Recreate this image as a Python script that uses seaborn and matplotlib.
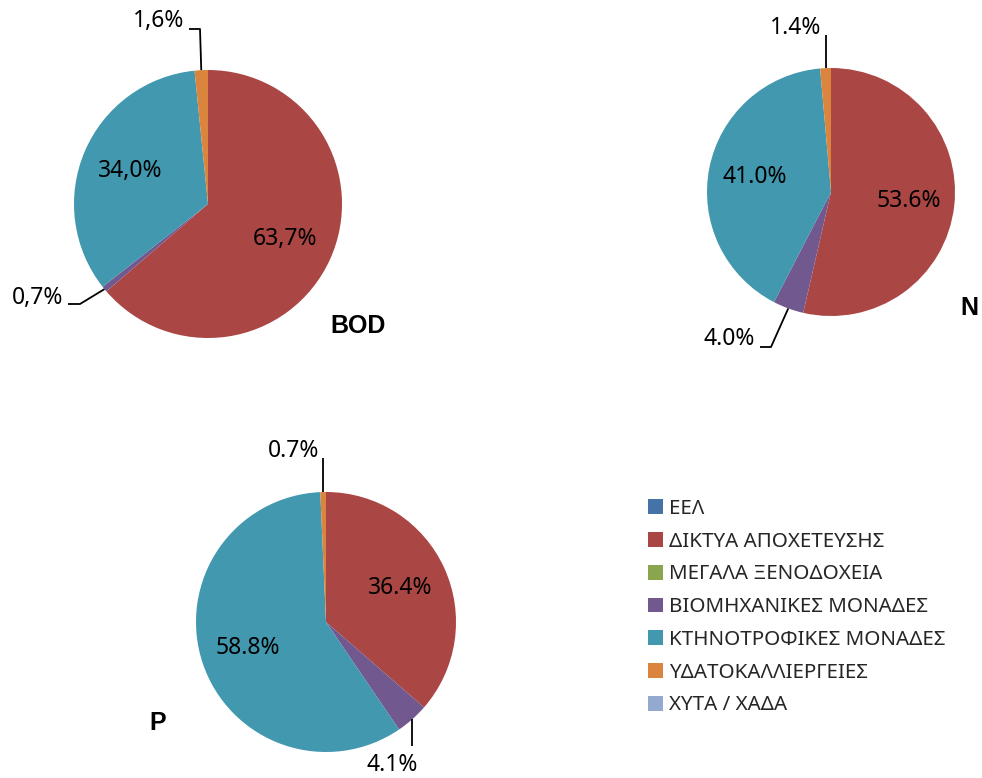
import matplotlib
matplotlib.use("Agg")
import matplotlib.pyplot as plt
import seaborn as sns
import numpy as np

# Pollution load shares by source category (percent)
categories = ["ΕΕΛ", "ΔΙΚΤΥΑ ΑΠΟΧΕΤΕΥΣΗΣ", "ΜΕΓΑΛΑ ΞΕΝΟΔΟΧΕΙΑ",
              "ΒΙΟΜΗΧΑΝΙΚΕΣ ΜΟΝΑΔΕΣ", "ΚΤΗΝΟΤΡΟΦΙΚΕΣ ΜΟΝΑΔΕΣ",
              "ΥΔΑΤΟΚΑΛΛΙΕΡΓΕΙΕΣ", "ΧΥΤΑ / ΧΑΔΑ"]
bod_values = [0.0, 63.7, 0.0, 0.7, 34.0, 1.6, 0.0]
n_values = [0.0, 53.6, 0.0, 4.0, 41.0, 1.4, 0.0]
p_values = [0.0, 36.4, 0.0, 4.1, 58.8, 0.7, 0.0]
colors = ["#4572A7", "#AA4643", "#89A54E", "#71588F", "#4198AF", "#DB843D", "#93A9CF"]

sns.set_theme(style="white")
plt.rcParams["font.family"] = ["Noto Sans", "DejaVu Sans"]

W, H = 982, 778
fig = plt.figure(figsize=(W / 100, H / 100), dpi=100)
ax = fig.add_axes([0, 0, 1, 1])


def py(y):
    """Convert a top-down pixel row into axes data units."""
    return H - y


# layout: pie centre/radius, title, decimal mark, outside labels
# outside labels: index -> (text x, text y, ha, elbow points between text and rim)
pies = [
    dict(values=bod_values, cx=208, cy=204, r=134, title="BOD", tpos=(358, 326), dec=",",
         outside={5: dict(txt=(184, 21), ha="right", path=[(189, 29), (200, 29)]),
                  3: dict(txt=(63, 298), ha="right", path=[(68, 304), (80, 304)])}),
    dict(values=n_values, cx=831, cy=192, r=124, title="N", tpos=(969, 308), dec=".",
         outside={5: dict(txt=(821, 28), ha="right", path=[(826, 35)]),
                  3: dict(txt=(755, 339), ha="right", path=[(760, 347), (771, 347)])}),
    dict(values=p_values, cx=326, cy=622, r=130, title="P", tpos=(158, 723), dec=".",
         outside={5: dict(txt=(319, 451), ha="right", path=[(323, 458)]),
                  3: dict(txt=(392, 765), ha="center", path=[(412, 746)])}),
]

legend_wedges = None
for spec in pies:
    vals = np.asarray(spec["values"], dtype=float)
    wedges, _ = ax.pie(vals, colors=colors, startangle=90, counterclock=False,
                       center=(spec["cx"], py(spec["cy"])), radius=spec["r"],
                       frame=True, wedgeprops=dict(linewidth=0))
    if legend_wedges is None:
        legend_wedges = wedges
    total = vals.sum()
    cum = np.cumsum(vals) - vals / 2
    for i, v in enumerate(vals):
        if v <= 0:
            continue
        ang = np.deg2rad(90 - 360 * cum[i] / total)
        label = f"{v:.1f}%".replace(".", spec["dec"])
        if i in spec["outside"]:
            o = spec["outside"][i]
            ex = spec["cx"] + spec["r"] * np.cos(ang)
            ey = spec["cy"] - spec["r"] * np.sin(ang)
            pts = [(ex, ey)] + o["path"][::-1]
            if len(o["path"]) == 1:
                pts = [(ex, ey), (ex, o["path"][0][1])]
            xs = [p[0] for p in pts]
            ys = [py(p[1]) for p in pts]
            ax.plot(xs, ys, color="black", lw=1.3, solid_capstyle="butt")
            ax.text(o["txt"][0], py(o["txt"][1]), label, ha=o["ha"], va="center",
                    fontsize=16.5, color="black")
        else:
            d = 0.63 * spec["r"]
            ax.text(spec["cx"] + d * np.cos(ang), py(spec["cy"]) + d * np.sin(ang), label,
                    ha="center", va="center", fontsize=16.5, color="black")
    ax.text(spec["tpos"][0], py(spec["tpos"][1]), spec["title"], ha="center", va="center",
            fontsize=18, fontweight="bold", family=["Liberation Sans", "DejaVu Sans"],
            color="black")

ax.legend(legend_wedges, categories, loc="upper left",
          bbox_to_anchor=(648, py(499)), bbox_transform=ax.transData,
          frameon=False, fontsize=14.8, handlelength=0.72, handleheight=0.72,
          handletextpad=0.28, labelspacing=0.62, borderpad=0, borderaxespad=0)

ax.set_xlim(0, W)
ax.set_ylim(0, H)
ax.set_aspect("auto")
ax.axis("off")
fig.savefig("out.png", dpi=100, facecolor="white")
